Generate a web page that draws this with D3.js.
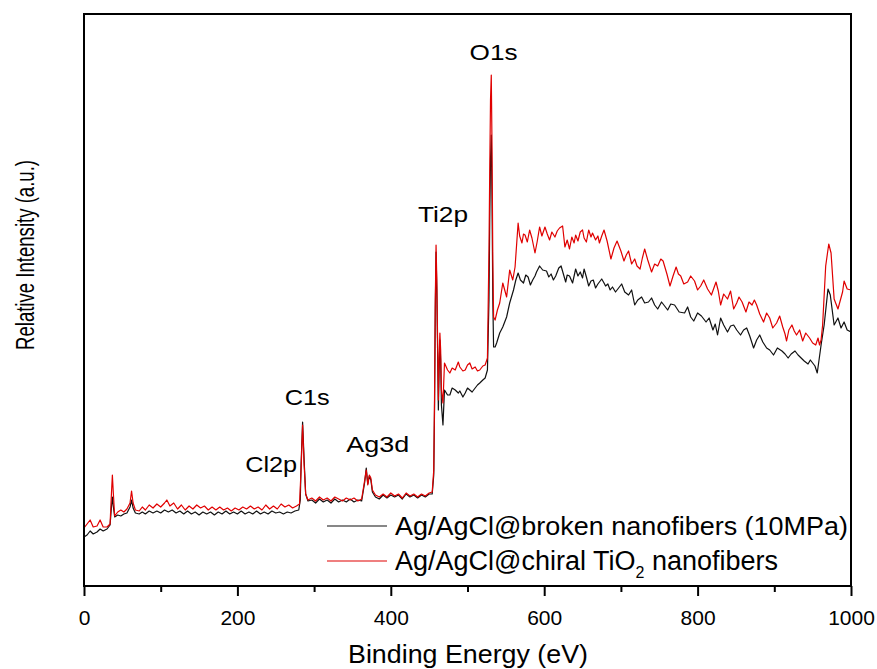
<!DOCTYPE html>
<html>
<head>
<meta charset="utf-8">
<script src="https://cdn.jsdelivr.net/npm/d3@7"></script>
<style>
  html, body { margin: 0; padding: 0; background: #fff; }
  svg { display: block; font-family: Arial, "Liberation Sans", sans-serif; }
</style>
</head>
<body>
<svg id="chart" width="877" height="669"></svg>
<script>
// ---------- data (binding energy eV, relative intensity a.u.) ----------
const seriesNames = ["Ag/AgCl@broken nanofibers (10MPa)", "Ag/AgCl@chiral TiO2 nanofibers"];
const xTicks = [0, 200, 400, 600, 800, 1000];
const xMinorTicks = [100, 300, 500, 700, 900];

const brokenSpectrum = [
[0,49],[4,51],[8,55],[12,52],[17,54],[21,57],[25,55],[30,57],[34,61],[36,81],[37,89],[38,81],[40,69],[44,71],[48,70],[52,72],[56,73],[60,79],[62,86],[64,78],[67,73],[72,72],[76,74],[80,72],[85,75],[90,73],[95,75],[100,73],[105,76],[110,74],[115,76],[120,73],[125,75],[130,72],[135,75],[140,72],[145,74],[150,71],[155,74],[160,72],[165,74],[170,71],[175,74],[180,72],[185,75],[190,72],[195,74],[200,72],[205,75],[210,72],[215,74],[220,72],[225,75],[230,72],[235,74],[240,72],[245,75],[250,73],[255,74],[260,72],[265,74],[270,73],[275,75],[280,76],[282,86],[283,121],[285,164],[287,126],[289,92],[292,85],[297,86],[302,83],[307,87],[312,84],[317,86],[322,83],[327,87],[332,84],[337,86],[342,84],[347,87],[352,84],[357,86],[362,85],[366,104],[368,118],[370,102],[372,110],[374,106],[376,94],[380,89],[385,87],[390,91],[395,88],[400,91],[405,89],[410,91],[415,87],[420,92],[425,89],[430,91],[435,88],[440,91],[445,89],[450,92],[454,92],[456,111],[457,176],[458,276],[459,334],[460,296],[461,236],[462,176],[463,216],[464,246],[465,226],[466,181],[468,161],[470,196],[474,191],[477,191],[480,198],[484,196],[488,193],[490,195],[494,189],[497,193],[500,198],[503,196],[506,194],[510,198],[513,201],[516,203],[520,206],[523,208],[526,216],[528,286],[529,366],[530,426],[531,451],[532,386],[533,286],[534,239],[536,239],[538,243],[542,253],[546,259],[551,269],[555,283],
[560,296],[563,306],[566,313],[569,306],[573,303],[576,311],[579,309],[582,301],[585,306],[588,310],[590,314],[594,320],[598,316],[603,315],[606,309],[609,312],[612,306],[615,310],[619,318],[622,320],[625,312],[628,304],[630,311],[633,310],[637,303],[641,317],[644,310],[647,314],[650,308],[652,317],[655,309],[658,300],[661,305],[664,306],[667,298],[670,302],[675,307],[678,303],[680,300],[683,302],[686,296],[689,299],[693,294],[697,298],[701,302],[705,294],[710,291],[714,296],[718,281],[722,286],[727,289],[731,283],[736,284],[740,288],[744,281],[748,277],[753,284],[757,280],[761,276],[765,282],[770,281],[776,274],[783,273],[787,279],[791,269],[795,265],[800,273],[805,270],[811,264],[815,268],[820,256],[823,262],[826,251],[830,268],[834,261],[839,254],[843,260],[847,261],[851,256],[856,251],[860,256],[864,258],[868,250],[873,238],[877,246],[881,251],[885,244],[890,238],[894,236],[899,231],[904,238],[910,235],[914,232],[918,228],[922,232],[927,235],[931,231],[935,228],[939,225],[944,222],[947,226],[950,223],[953,220],[956,213],[961,241],[965,261],[970,297],[973,291],[978,261],[983,268],[987,258],[991,264],[995,256],[1000,254]
];

const chiralSpectrum = [
[0,58],[4,62],[8,66],[12,59],[17,60],[21,66],[25,59],[30,59],[34,62],[36,96],[37,111],[38,96],[40,70],[44,74],[48,76],[52,74],[56,77],[60,83],[62,95],[64,83],[67,76],[72,75],[76,79],[80,76],[85,81],[90,78],[95,82],[100,79],[105,83],[108,86],[112,80],[117,83],[122,77],[127,81],[132,76],[137,80],[142,77],[147,81],[152,78],[157,80],[162,76],[167,79],[172,76],[177,79],[182,76],[187,78],[192,75],[197,78],[202,76],[207,79],[212,77],[217,80],[222,77],[227,79],[232,76],[237,81],[242,77],[247,80],[252,77],[257,82],[262,79],[267,81],[272,78],[277,80],[281,82],[283,116],[285,161],[287,121],[289,92],[292,86],[297,88],[302,85],[307,89],[312,86],[317,88],[322,85],[327,89],[332,87],[337,85],[342,88],[347,86],[352,88],[357,85],[362,87],[366,106],[368,116],[370,101],[372,111],[374,108],[376,96],[380,91],[385,89],[390,92],[395,89],[400,93],[405,90],[410,92],[415,88],[420,93],[425,90],[430,92],[435,89],[440,92],[445,90],[450,93],[454,94],[456,116],[457,186],[458,286],[459,341],[460,306],[461,246],[462,186],[463,226],[464,253],[465,236],[466,196],[468,183],[470,223],[474,216],[477,213],[480,218],[484,216],[488,224],[490,219],[494,215],[497,216],[500,221],[503,223],[506,217],[510,219],[513,215],[516,216],[520,220],[523,221],[526,228],[528,336],[529,416],[530,486],[531,511],[532,436],[533,326],[534,269],[536,266],[539,276],[542,283],[546,303],[551,289],[555,316],[559,306],[562,319],
[566,363],[568,350],[571,343],[573,352],[575,351],[578,344],[581,356],[584,348],[588,333],[591,345],[594,359],[597,350],[601,359],[604,352],[607,346],[610,354],[614,349],[617,355],[620,358],[624,360],[627,339],[630,346],[633,337],[636,349],[639,343],[641,351],[644,345],[647,354],[650,356],[652,348],[655,344],[658,356],[661,349],[663,353],[667,346],[670,350],[672,343],[675,350],[678,356],[682,345],[687,327],[691,338],[695,345],[700,335],[704,325],[707,331],[710,335],[714,322],[718,327],[721,320],[725,317],[728,328],[731,337],[735,326],[740,314],[744,322],[748,320],[752,327],[755,325],[760,312],[764,300],[768,310],[772,319],[775,312],[778,310],[782,302],[787,304],[791,310],[796,305],[800,296],[804,300],[808,306],[813,297],[818,291],[824,304],[827,295],[830,281],[834,292],[839,287],[843,295],[847,277],[851,283],[854,289],[858,284],[863,274],[867,284],[871,281],[874,286],[877,281],[881,272],[886,264],[890,273],[894,268],[898,258],[903,263],[907,270],[911,259],[914,252],[916,245],[919,256],[923,261],[926,255],[929,251],[933,256],[937,245],[941,253],[946,248],[950,243],[954,241],[957,248],[959,241],[961,246],[963,261],[967,320],[971,342],[974,333],[978,287],[983,277],[989,294],[991,305],[995,297],[1000,296]
];

// peak annotations: label, energy (eV), intensity level of label baseline
const peakNames = ["O1s", "Ti2p", "C1s", "Ag3d", "Cl2p"];
const peakEnergies = [534, 468, 291, 383, 244];
const peakLevels = [526, 364, 181, 134, 114];

// ---------- layout ----------
const svg = d3.select("#chart");
const margin = { left: 84, top: 14, right: 877 - 851, bottom: 669 - 586 };
const W = 877 - margin.left - margin.right;
const H = 669 - margin.top - margin.bottom;

const x = d3.scaleLinear().domain([0, 1000]).range([margin.left, margin.left + W]);
const y = d3.scaleLinear().domain([0, 572]).range([margin.top + H, margin.top]);

svg.append("defs").append("clipPath").attr("id", "plotclip")
  .append("rect").attr("x", margin.left).attr("y", margin.top).attr("width", W).attr("height", H);

const line = d3.line().x(d => x(d[0])).y(d => y(d[1]));
const colors = ["#111111", "#e00000"];

const plot = svg.append("g").attr("clip-path", "url(#plotclip)");
plot.append("path").datum(brokenSpectrum).attr("d", line)
  .attr("fill", "none").attr("stroke", colors[0]).attr("stroke-width", 1.2).attr("stroke-linejoin", "round");
plot.append("path").datum(chiralSpectrum).attr("d", line)
  .attr("fill", "none").attr("stroke", colors[1]).attr("stroke-width", 1.2).attr("stroke-linejoin", "round");

// frame
svg.append("rect").attr("x", margin.left).attr("y", margin.top).attr("width", W).attr("height", H)
  .attr("fill", "none").attr("stroke", "#000").attr("stroke-width", 2);

// x axis
const xAxis = d3.axisBottom(x).tickValues(xTicks).tickSize(10).tickPadding(6).tickFormat(d3.format("d"));
const gx = svg.append("g").attr("transform", `translate(0,${margin.top + H})`).call(xAxis);
gx.select(".domain").remove();
gx.selectAll(".tick line").attr("stroke", "#000").attr("stroke-width", 2);
gx.selectAll(".tick text").attr("font-size", 21).attr("fill", "#000")
  .attr("font-family", "Arial, 'Liberation Sans', sans-serif").attr("dy", "1.1em");
const gxm = svg.append("g").attr("transform", `translate(0,${margin.top + H})`)
  .call(d3.axisBottom(x).tickValues(xMinorTicks).tickSize(6).tickFormat(""));
gxm.select(".domain").remove();
gxm.selectAll(".tick line").attr("stroke", "#000").attr("stroke-width", 2);

// axis titles
svg.append("text").attr("x", 468).attr("y", 663).attr("text-anchor", "middle")
  .attr("font-size", 26).attr("textLength", 240).attr("lengthAdjust", "spacingAndGlyphs")
  .text("Binding Energy (eV)");
svg.append("text").attr("transform", "translate(34,255) rotate(-90)").attr("text-anchor", "middle")
  .attr("font-size", 25).attr("textLength", 190).attr("lengthAdjust", "spacingAndGlyphs")
  .text("Relative Intensity (a.u.)");

// peak labels
const labelWidths = [48, 50, 45, 63, 52];
peakNames.forEach((name, i) => {
  svg.append("text").attr("x", x(peakEnergies[i])).attr("y", y(peakLevels[i]))
    .attr("text-anchor", "middle").attr("font-size", 22)
    .attr("textLength", labelWidths[i]).attr("lengthAdjust", "spacingAndGlyphs")
    .text(name);
});

// legend
const leg = svg.append("g");
const legY = [526, 561];
leg.append("line").attr("x1", 327).attr("x2", 387).attr("y1", legY[0]).attr("y2", legY[0])
  .attr("stroke", colors[0]).attr("stroke-width", 1.2);
leg.append("text").attr("x", 395).attr("y", legY[0] + 9).attr("font-size", 26)
  .attr("textLength", 453).attr("lengthAdjust", "spacingAndGlyphs").text(seriesNames[0]);
leg.append("line").attr("x1", 327).attr("x2", 387).attr("y1", legY[1]).attr("y2", legY[1])
  .attr("stroke", colors[1]).attr("stroke-width", 1.2);
const t2 = leg.append("text").attr("x", 395).attr("y", legY[1] + 9).attr("font-size", 27);
t2.append("tspan").text("Ag/AgCl@chiral TiO");
t2.append("tspan").attr("font-size", 16).attr("dy", 8).text("2");
t2.append("tspan").attr("dy", -8).text(" nanofibers");
</script>
</body>
</html>
